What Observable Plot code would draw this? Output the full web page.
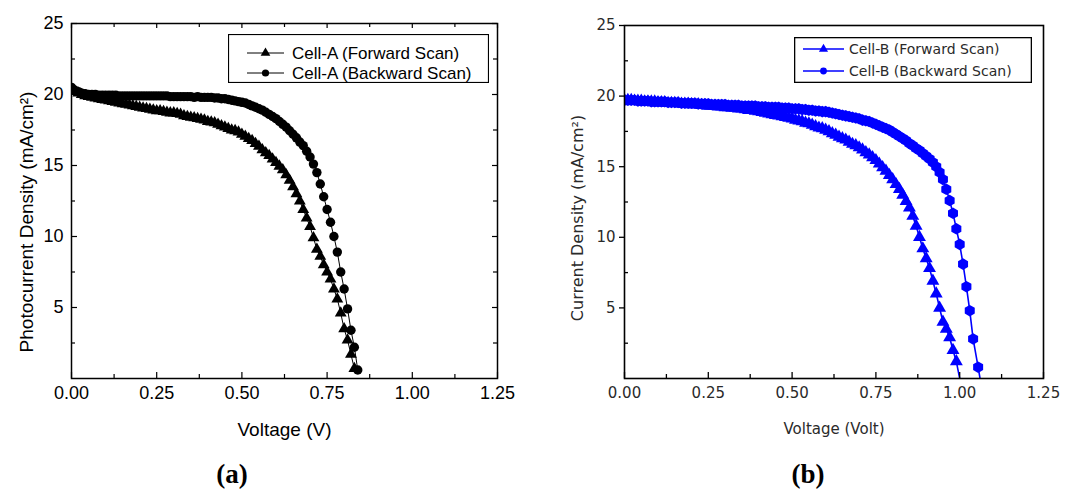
<!DOCTYPE html>
<html><head><meta charset="utf-8">
<script src="https://cdn.jsdelivr.net/npm/d3@7"></script>
<script src="https://cdn.jsdelivr.net/npm/@observablehq/plot@0.6"></script>
<style>
body{margin:0;background:#fff;}
#wrap{position:relative;width:1080px;height:494px;overflow:hidden;background:#fff;}
.panel{position:absolute;top:0;}
.leg{position:absolute;}
.lab{position:absolute;font-family:"Liberation Serif","Times New Roman",serif;font-weight:bold;font-size:27px;transform:translate(-50%,-50%);line-height:1;}
</style></head><body><div id="wrap"></div>
<script>
// ---------- tick values ----------
const xMajor = [0, 0.25, 0.5, 0.75, 1.0, 1.25];
const xMinor = [0.125, 0.375, 0.625, 0.875, 1.125];
const yMajor = [5, 10, 15, 20, 25];
const yMinor = [2.5, 7.5, 12.5, 17.5, 22.5];

// ---------- Cell-A (panel a) ----------
const voltA_fwd = [0.00,0.01,0.02,0.03,0.04,0.05,0.06,0.07,0.08,0.09,0.10,0.11,0.12,0.13,0.14,0.15,0.16,0.17,0.18,0.19,0.20,0.21,0.22,0.23,0.24,0.25,0.26,0.27,0.28,0.29,0.30,0.31,0.32,0.33,0.34,0.35,0.36,0.37,0.38,0.39,0.40,0.41,0.42,0.43,0.44,0.45,0.46,0.47,0.48,0.49,0.50,0.51,0.52,0.53,0.54,0.55,0.56,0.57,0.58,0.59,0.60,0.61,0.62,0.63,0.64,0.65,0.66,0.67,0.68,0.69,0.70,0.71,0.72,0.73,0.74,0.75,0.76,0.77,0.78,0.79,0.80,0.81,0.82,0.83];
const currA_fwd = [20.3,20.2,20.1,20.0,19.9,19.85,19.8,19.75,19.7,19.65,19.6,19.55,19.5,19.45,19.4,19.35,19.3,19.25,19.2,19.15,19.1,19.05,19.0,18.95,18.9,18.85,18.85,18.8,18.75,18.7,18.7,18.65,18.6,18.5,18.45,18.4,18.35,18.3,18.25,18.2,18.1,18.05,18.0,17.9,17.8,17.7,17.6,17.5,17.45,17.35,17.2,17.05,16.9,16.75,16.55,16.35,16.1,15.9,15.7,15.45,15.2,14.95,14.7,14.35,13.95,13.5,13.0,12.5,11.9,11.3,10.7,9.9,9.1,8.6,8.0,7.5,7.0,6.3,5.6,4.6,3.5,2.7,1.7,0.7];
const voltA_bwd = [0.00,0.01,0.02,0.03,0.04,0.05,0.06,0.07,0.08,0.09,0.10,0.11,0.12,0.13,0.14,0.15,0.16,0.17,0.18,0.19,0.20,0.21,0.22,0.23,0.24,0.25,0.26,0.27,0.28,0.29,0.30,0.31,0.32,0.33,0.34,0.35,0.36,0.37,0.38,0.39,0.40,0.41,0.42,0.43,0.44,0.45,0.46,0.47,0.48,0.49,0.50,0.51,0.52,0.53,0.54,0.55,0.56,0.57,0.58,0.59,0.60,0.61,0.62,0.63,0.64,0.65,0.66,0.67,0.68,0.69,0.70,0.71,0.72,0.73,0.74,0.75,0.76,0.77,0.78,0.79,0.80,0.81,0.82,0.83,0.84];
const currA_bwd = [20.5,20.3,20.2,20.1,20.05,20.0,20.0,20.0,19.95,19.95,19.95,19.95,19.95,19.95,19.9,19.9,19.9,19.9,19.9,19.9,19.9,19.9,19.9,19.9,19.9,19.9,19.9,19.9,19.9,19.85,19.85,19.85,19.85,19.85,19.85,19.85,19.8,19.85,19.8,19.8,19.8,19.8,19.75,19.75,19.7,19.7,19.65,19.6,19.55,19.5,19.45,19.4,19.3,19.2,19.1,19.0,18.9,18.75,18.6,18.45,18.3,18.1,17.9,17.7,17.45,17.2,16.95,16.65,16.4,16.0,15.6,15.1,14.5,13.7,12.8,11.9,11.0,10.0,8.9,7.5,6.3,4.9,3.4,2.2,0.6];

// ---------- Cell-B (panel b) ----------
const voltB_fwd = [0.00,0.01,0.02,0.03,0.04,0.05,0.06,0.07,0.08,0.09,0.10,0.11,0.12,0.13,0.14,0.15,0.16,0.17,0.18,0.19,0.20,0.21,0.22,0.23,0.24,0.25,0.26,0.27,0.28,0.29,0.30,0.31,0.32,0.33,0.34,0.35,0.36,0.37,0.38,0.39,0.40,0.41,0.42,0.43,0.44,0.45,0.46,0.47,0.48,0.49,0.50,0.51,0.52,0.53,0.54,0.55,0.56,0.57,0.58,0.59,0.60,0.61,0.62,0.63,0.64,0.65,0.66,0.67,0.68,0.69,0.70,0.71,0.72,0.73,0.74,0.75,0.76,0.77,0.78,0.79,0.80,0.81,0.82,0.83,0.84,0.85,0.86,0.87,0.88,0.89,0.90,0.91,0.92,0.93,0.94,0.95,0.96,0.97,0.98,0.99,1.005];
const currB_fwd = [19.7,19.7,19.7,19.65,19.65,19.65,19.6,19.6,19.6,19.6,19.55,19.55,19.55,19.5,19.5,19.5,19.5,19.45,19.45,19.45,19.4,19.4,19.4,19.35,19.35,19.3,19.3,19.3,19.25,19.25,19.2,19.2,19.15,19.15,19.1,19.1,19.05,19.0,19.0,18.95,18.9,18.85,18.8,18.75,18.7,18.65,18.6,18.55,18.5,18.45,18.4,18.3,18.25,18.2,18.1,18.05,17.95,17.85,17.75,17.7,17.6,17.5,17.35,17.25,17.1,17.0,16.9,16.75,16.6,16.5,16.35,16.2,16.0,15.85,15.65,15.45,15.2,14.95,14.7,14.4,14.1,13.75,13.4,13.0,12.55,12.1,11.5,10.8,10.0,9.2,8.5,7.8,6.9,6.0,5.0,4.0,3.5,2.9,2.0,1.2,-0.6];
const voltB_bwd = [0.00,0.01,0.02,0.03,0.04,0.05,0.06,0.07,0.08,0.09,0.10,0.11,0.12,0.13,0.14,0.15,0.16,0.17,0.18,0.19,0.20,0.21,0.22,0.23,0.24,0.25,0.26,0.27,0.28,0.29,0.30,0.31,0.32,0.33,0.34,0.35,0.36,0.37,0.38,0.39,0.40,0.41,0.42,0.43,0.44,0.45,0.46,0.47,0.48,0.49,0.50,0.51,0.52,0.53,0.54,0.55,0.56,0.57,0.58,0.59,0.60,0.61,0.62,0.63,0.64,0.65,0.66,0.67,0.68,0.69,0.70,0.71,0.72,0.73,0.74,0.75,0.76,0.77,0.78,0.79,0.80,0.81,0.82,0.83,0.84,0.85,0.86,0.87,0.88,0.89,0.90,0.91,0.92,0.93,0.94,0.95,0.96,0.97,0.98,0.99,1.00,1.01,1.02,1.03,1.04,1.055,1.065];
const currB_bwd = [19.7,19.7,19.7,19.7,19.65,19.65,19.65,19.65,19.6,19.6,19.6,19.6,19.6,19.55,19.55,19.55,19.55,19.5,19.5,19.5,19.5,19.5,19.45,19.45,19.45,19.45,19.4,19.4,19.4,19.4,19.4,19.35,19.35,19.35,19.35,19.3,19.3,19.3,19.3,19.3,19.25,19.25,19.25,19.2,19.2,19.2,19.2,19.15,19.15,19.15,19.1,19.1,19.1,19.05,19.05,19.0,19.0,18.95,18.95,18.9,18.9,18.85,18.8,18.75,18.7,18.65,18.6,18.55,18.5,18.45,18.4,18.3,18.25,18.2,18.1,18.0,17.9,17.8,17.7,17.6,17.45,17.3,17.15,17.0,16.85,16.65,16.5,16.3,16.15,15.95,15.75,15.55,15.3,15.0,14.6,14.1,13.4,12.6,11.7,10.6,9.5,8.1,6.5,4.8,2.8,0.8,-0.6];

const seriesNamesA = ["Cell-A (Forward Scan)", "Cell-A (Backward Scan)"];
const seriesNamesB = ["Cell-B (Forward Scan)", "Cell-B (Backward Scan)"];
const xLabelA = "Voltage (V)";
const yLabelA = "Photocurrent Density (mA/cm\u00B2)";
const xLabelB = "Voltage (Volt)";
const yLabelB = "Current Density (mA/cm\u00B2)";
const panelLabels = ["(a)", "(b)"];

const zip = (vs, js) => vs.map((v, i) => ({v, j: js[i]}));
const dataA_fwd = zip(voltA_fwd, currA_fwd);
const dataA_bwd = zip(voltA_bwd, currA_bwd);
const dataB_fwd = zip(voltB_fwd, currB_fwd);
const dataB_bwd = zip(voltB_bwd, currB_bwd);

const wrap = document.getElementById("wrap");
const fmt = d3.format(".2f");

// ---------- Panel (a) ----------
{
  const W = 540, H = 445, mL = 71, mR = 43, mT = 23, mB = 67;
  const pw = W - mL - mR, ph = H - mT - mB;
  const chart = Plot.plot({
    width: W, height: H, marginLeft: mL, marginRight: mR, marginTop: mT, marginBottom: mB,
    x: {domain: [0, 1.25], axis: null},
    y: {domain: [0, 25], axis: null},
    style: {fontFamily: "'Liberation Sans', Arial, sans-serif", fontSize: "18px", color: "#000", background: "transparent", overflow: "visible"},
    marks: [
      Plot.line(dataA_fwd, {x: "v", y: "j", stroke: "#000", strokeWidth: 1, clip: true}),
      Plot.dot(dataA_fwd, {x: "v", y: "j", symbol: "triangle", r: 4.4, fill: "#000", stroke: "none", clip: true}),
      Plot.line(dataA_bwd, {x: "v", y: "j", stroke: "#000", strokeWidth: 1, clip: true}),
      Plot.dot(dataA_bwd, {x: "v", y: "j", symbol: "circle", r: 4.7, fill: "#000", stroke: "none", clip: true}),
      Plot.frame({stroke: "#000", strokeWidth: 1.5}),
      Plot.tickX(xMajor, {insetTop: ph - 6, stroke: "#000", strokeWidth: 1.2}),
      Plot.tickX(xMinor, {insetTop: ph - 4, stroke: "#000", strokeWidth: 1.2}),
      Plot.tickX(xMajor, {insetBottom: ph - 5, stroke: "#000", strokeWidth: 1.2}),
      Plot.tickX(xMinor, {insetBottom: ph - 4, stroke: "#000", strokeWidth: 1.2}),
      Plot.tickY(yMajor, {insetRight: pw - 6, stroke: "#000", strokeWidth: 1.2}),
      Plot.tickY(yMinor, {insetRight: pw - 4, stroke: "#000", strokeWidth: 1.2}),
      Plot.tickY(yMajor, {insetLeft: pw - 5, stroke: "#000", strokeWidth: 1.2}),
      Plot.tickY(yMinor, {insetLeft: pw - 4, stroke: "#000", strokeWidth: 1.2}),
      Plot.axisX(xMajor, {tickSize: 0, tickPadding: 8, tickFormat: fmt, label: null, fontSize: 18}),
      Plot.axisY(yMajor, {tickSize: 0, tickPadding: 8, label: null, fontSize: 18}),
      Plot.text([xLabelA], {text: d => d, frameAnchor: "bottom", textAnchor: "middle", dy: 57, fontSize: 19}),
      Plot.text([yLabelA], {text: d => d, frameAnchor: "left", textAnchor: "middle", dx: -45, dy: 21, rotate: -90, fontSize: 19})
    ]
  });
  chart.classList.add("panel");
  chart.style.left = "0px";
  wrap.appendChild(chart);
}

// ---------- Panel (b) ----------
{
  const W = 540, H = 445, mL = 84, mR = 37, mT = 25, mB = 67;
  const pw = W - mL - mR, ph = H - mT - mB;
  const blue = "#0000ff";
  const chart = Plot.plot({
    width: W, height: H, marginLeft: mL, marginRight: mR, marginTop: mT, marginBottom: mB,
    x: {domain: [0, 1.25], axis: null},
    y: {domain: [0, 25], axis: null},
    style: {fontFamily: "'DejaVu Sans', sans-serif", fontSize: "15px", color: "#2a2a2a", background: "transparent", overflow: "visible"},
    marks: [
      Plot.line(dataB_fwd, {x: "v", y: "j", stroke: blue, strokeWidth: 1.6, clip: true}),
      Plot.dot(dataB_fwd, {x: "v", y: "j", symbol: "triangle", r: 4.8, fill: blue, stroke: "none", clip: true}),
      Plot.line(dataB_bwd, {x: "v", y: "j", stroke: blue, strokeWidth: 1.6, clip: true}),
      Plot.dot(dataB_bwd, {x: "v", y: "j", symbol: "hexagon", r: 5, fill: blue, stroke: "none", clip: true}),
      Plot.frame({stroke: "#000", strokeWidth: 1.6}),
      Plot.tickX(xMajor, {insetTop: ph - 6, stroke: "#000", strokeWidth: 1.3}),
      Plot.tickX(xMinor, {insetTop: ph - 4, stroke: "#000", strokeWidth: 1.3}),
      Plot.tickY(yMajor, {insetLeft: -5, insetRight: pw, stroke: "#000", strokeWidth: 1.3}),
      Plot.tickY(yMinor, {insetRight: pw - 4, stroke: "#000", strokeWidth: 1.3}),
      Plot.axisX(xMajor, {tickSize: 0, tickPadding: 9, tickFormat: fmt, label: null, fontSize: 15}),
      Plot.axisY(yMajor, {tickSize: 0, tickPadding: 9, label: null, fontSize: 15}),
      Plot.text([xLabelB], {text: d => d, frameAnchor: "bottom", textAnchor: "middle", dy: 55, fontSize: 15}),
      Plot.text([yLabelB], {text: d => d, frameAnchor: "left", textAnchor: "middle", dx: -47, dy: 16, rotate: -90, fontSize: 16})
    ]
  });
  chart.classList.add("panel");
  chart.style.left = "540px";
  wrap.appendChild(chart);
}

// ---------- Legends ----------
function legend(cfg) {
  const svg = d3.select(wrap).append("svg").attr("class", "leg")
    .style("left", cfg.left + "px").style("top", cfg.top + "px")
    .attr("width", cfg.width).attr("height", cfg.height);
  svg.append("rect").attr("x", 0.5).attr("y", 0.5).attr("width", cfg.width - 1).attr("height", cfg.height - 1)
    .attr("fill", "#fff").attr("stroke", "#000").attr("stroke-width", cfg.border);
  cfg.items.forEach((it, i) => {
    const y = cfg.rowY[i];
    svg.append("line").attr("x1", cfg.lineX1).attr("x2", cfg.lineX2).attr("y1", y).attr("y2", y)
      .attr("stroke", cfg.color).attr("stroke-width", cfg.lineW);
    svg.append("path").attr("transform", `translate(${(cfg.lineX1 + cfg.lineX2) / 2},${y})`)
      .attr("d", d3.symbol(it.symbol, Math.PI * it.r * it.r)()).attr("fill", cfg.color);
    svg.append("text").attr("x", cfg.textX).attr("y", y).attr("dy", "0.35em")
      .attr("font-family", cfg.font).attr("font-size", cfg.fontSize).attr("fill", cfg.textColor)
      .text(it.label);
  });
}
legend({left: 228, top: 34, width: 261, height: 49, border: 1.2,
  lineX1: 19, lineX2: 56, textX: 64, rowY: [19, 39], color: "#000", lineW: 1, textColor: "#000",
  font: "'Liberation Sans', Arial, sans-serif", fontSize: 17,
  items: [{label: seriesNamesA[0], symbol: d3.symbolTriangle, r: 3.6}, {label: seriesNamesA[1], symbol: d3.symbolCircle, r: 3.6}]});
legend({left: 794, top: 37, width: 238, height: 46, border: 1.6,
  lineX1: 9, lineX2: 50, textX: 55, rowY: [12, 34], color: "#0000ff", lineW: 1.5, textColor: "#2a2a2a",
  font: "'DejaVu Sans', sans-serif", fontSize: 14,
  items: [{label: seriesNamesB[0], symbol: d3.symbolTriangle, r: 3.4}, {label: seriesNamesB[1], symbol: d3.symbolCircle, r: 3.4}]});

// ---------- Panel labels ----------
[[panelLabels[0], 232], [panelLabels[1], 808]].forEach(([t, x]) => {
  const d = document.createElement("div");
  d.className = "lab"; d.textContent = t;
  d.style.left = x + "px"; d.style.top = "474px";
  wrap.appendChild(d);
});
</script></body></html>
